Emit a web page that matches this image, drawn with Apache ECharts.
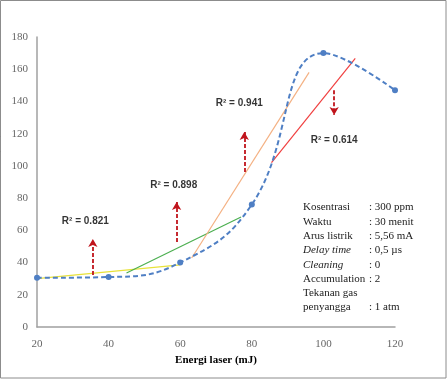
<!DOCTYPE html>
<html><head><meta charset="utf-8">
<script src="https://cdn.jsdelivr.net/npm/echarts@6/dist/echarts.min.js"></script>
<style>html,body{margin:0;padding:0;background:#fff}#c{width:447px;height:379px}</style>
</head><body><div id="c"></div>
<script>
// Data
const energy = [20, 40, 60, 80, 100, 120];
const intensity = [30.5, 31, 40, 76, 170, 147];
const trendYellow = [[20, 30], [60, 38.6]];
const trendGreen = [[45, 33.5], [77, 68.3]];
const trendOrange = [[63.2, 42.8], [96, 158]];
const trendRed = [[85.5, 102], [108.9, 166.8]];
const arrowX = [35.6, 59, 77.9, 103];
const arrowFrom = [32.3, 52.8, 96.2, 147];
const arrowTo = [54.6, 77.6, 121, 131.6];
const r2Labels = ['R² = 0.821', 'R² = 0.898', 'R² = 0.941', 'R² = 0.614'];
const r2X = [33.5, 58.2, 76.5, 103];
const r2Y = [65.8, 88.1, 139, 116];
const infoKeys = ['Kosentrasi', 'Waktu', 'Arus listrik', 'Delay time', 'Cleaning', 'Accumulation', 'Tekanan gas', 'penyangga'];
const infoVals = [': 300 ppm', ': 30 menit', ': 5,56 mA', ': 0,5 µs', ': 0', ': 2', '', ': 1 atm'];
const italicKeys = ['Delay time', 'Cleaning'];

const chart = echarts.init(document.getElementById('c'), null, {renderer: 'canvas'});
const serif = 'Liberation Serif';
const trendStyle = (color) => ({
  type: 'line', symbol: 'none', silent: true, z: 2,
  lineStyle: {color: color, width: 1.2}
});
const graphics = [{
  type: 'rect', shape: {x: 0.5, y: 0.5, width: 445.5, height: 377.5},
  style: {fill: 'none', stroke: '#8c8c8c', lineWidth: 1}, silent: true
}];
infoKeys.forEach((k, i) => {
  const y = 209 + i * 14.3;
  graphics.push({type: 'text', left: 303, top: y - 7, silent: true,
    style: {text: k, font: (italicKeys.includes(k) ? 'italic ' : '') + '11px ' + serif, fill: '#222'}});
  if (infoVals[i]) graphics.push({type: 'text', left: 369, top: y - 7, silent: true,
    style: {text: infoVals[i], font: '11px ' + serif, fill: '#222'}});
});

chart.setOption({
  animation: false,
  grid: {left: 37, right: 52, top: 37, bottom: 52, containLabel: false, outerBoundsMode: 'none'},
  xAxis: {
    type: 'value', min: 20, max: 120, interval: 20,
    name: 'Energi laser (mJ)', nameLocation: 'middle', nameGap: 26,
    nameTextStyle: {fontFamily: serif, fontWeight: 'bold', fontSize: 11, color: '#000'},
    axisLine: {lineStyle: {color: '#a0a0a0', width: 1.5}},
    axisTick: {show: false}, splitLine: {show: false},
    axisLabel: {fontFamily: serif, fontSize: 11, color: '#666', margin: 12}
  },
  yAxis: {
    type: 'value', min: 0, max: 180, interval: 20,
    name: 'Intensitas emisi (a.u)', nameLocation: 'middle', nameGap: 28, nameRotate: 90,
    nameTextStyle: {fontFamily: serif, fontWeight: 'bold', fontSize: 11, color: '#000'},
    axisLine: {show: true, lineStyle: {color: '#a0a0a0', width: 1.5}},
    axisTick: {show: false}, splitLine: {show: false},
    axisLabel: {fontFamily: serif, fontSize: 11, color: '#666', margin: 9}
  },
  graphic: graphics,
  series: [
    Object.assign(trendStyle('#e8e23a'), {data: trendYellow}),
    Object.assign(trendStyle('#4caf50'), {data: trendGreen}),
    Object.assign(trendStyle('#f4b183'), {data: trendOrange}),
    Object.assign(trendStyle('#f04040'), {data: trendRed}),
    {
      type: 'line', data: energy.map((x, i) => [x, intensity[i]]), smooth: 0.45, z: 5,
      symbol: 'circle', symbolSize: 6,
      itemStyle: {color: '#4f7fc4'},
      lineStyle: {color: '#4f7fc4', width: 2, type: [5, 3]}
    },
    {
      type: 'scatter', symbolSize: 0, silent: true, z: 6,
      data: r2X.map((x, i) => [x, r2Y[i]]),
      label: {show: true, position: 'inside', formatter: p => r2Labels[p.dataIndex],
        fontFamily: 'Liberation Sans', fontWeight: 'bold', fontSize: 10, color: '#000'},
      markLine: {
        silent: true, symbol: ['none', 'arrow'], symbolSize: [7, 8],
        label: {show: false},
        lineStyle: {color: '#c0141c', width: 1.8, type: [4, 2]},
        data: arrowX.map((x, i) => [{coord: [x, arrowFrom[i]]}, {coord: [x, arrowTo[i]]}])
      }
    }
  ]
});
</script></body></html>
